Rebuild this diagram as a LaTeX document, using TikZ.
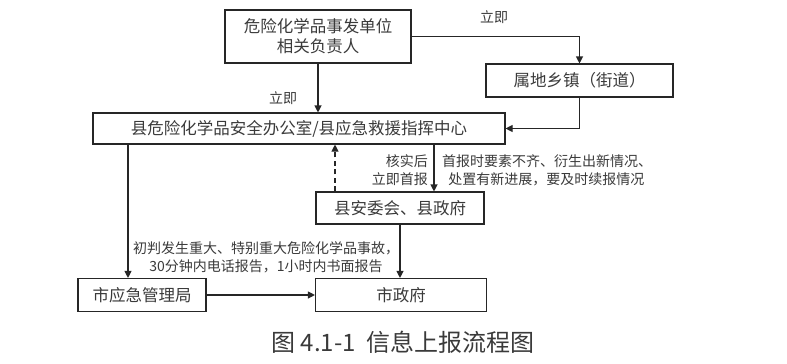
\documentclass[tikz,border=0pt]{standalone}
\usepackage{fontspec}
\setmainfont{Noto Sans CJK SC}
\usepackage{xcolor}
\usetikzlibrary{arrows.meta,calc,positioning}
\definecolor{inkgray}{HTML}{3A3A3A}
\definecolor{linegray}{HTML}{262626}

\tikzset{
  unitbox/.style={draw=linegray,line width=1.1pt,text=inkgray,align=center,
    inner sep=2pt,font=\fontsize{16.5}{20}\selectfont},
  flow/.style={draw=linegray,line width=1.1pt,-{Triangle[length=7pt,width=7pt]}},
  note/.style={text=inkgray,inner sep=1pt,font=\fontsize{14}{18}\selectfont}
}

\begin{document}
\begin{tikzpicture}[x=1pt,y=-1pt]
        \useasboundingbox (0,0) rectangle (787,364);
        % boxes
        \node[unitbox,minimum width=186pt,minimum height=53pt] (unit) at (318,36.5) {
          危险化学品事发单位\\相关负责人};
        \node[unitbox,minimum width=187pt,minimum height=33pt] (town) at (579.5,80.5) {
          属地乡镇（街道）};
        \node[unitbox,minimum width=412pt,minimum height=31pt] (office) at (299,128.5) {
          县危险化学品安全办公室/县应急救援指挥中心};
        \node[unitbox,minimum width=168pt,minimum height=32pt] (county) at (400,208) {
          县安委会、县政府};
        \node[unitbox,minimum width=128pt,minimum height=33pt] (cityem) at (142,295) {
          市应急管理局};
        \node[unitbox,minimum width=171pt,minimum height=33pt] (citygov) at (401,295) {
          市政府};
        % connectors
        \draw[flow] (unit.south) -- (unit.south |- office.north);
        \draw[flow] (unit.east) -| (town.north);
        \draw[flow] (town.south) |- (office.east);
        \draw[flow] ([xshift=-14pt]cityem.north |- office.south) -- ([xshift=-14pt]cityem.north);
        \draw[flow,dash pattern=on 5pt off 3.5pt] ([xshift=-65pt]county.north) -- ([xshift=-65pt]county.north |- office.south);
        \draw[flow] ([xshift=34pt]county.north |- office.south) -- ([xshift=34pt]county.north);
        \draw[flow] (county.south) -- (county.south |- citygov.north);
        \draw[flow] (cityem.east) -- (citygov.west);
        % labels
        \node[note] (l1) at (283,98) {立即};
        \node[note] (l2) at (494,17) {立即};
        \node[note,align=right,anchor=east] (l3) at (429,170) {核实后\\立即首报};
        \node[note,align=left,anchor=west] (l4) at (441,170) {首报时要素不齐、衍生出新情况、\\\ \ 处置有新进展，要及时续报情况};
        \node[note,align=center] (l5) at (266,257) {初判发生重大、特别重大危险化学品事故，\\30分钟内电话报告，1小时内书面报告};
        % caption
        \node[text=inkgray,font=\fontsize{24}{28}\selectfont] (cap) at (403,342) {图 4.1-1\ \ 信息上报流程图};
      \end{tikzpicture}
\end{document}
